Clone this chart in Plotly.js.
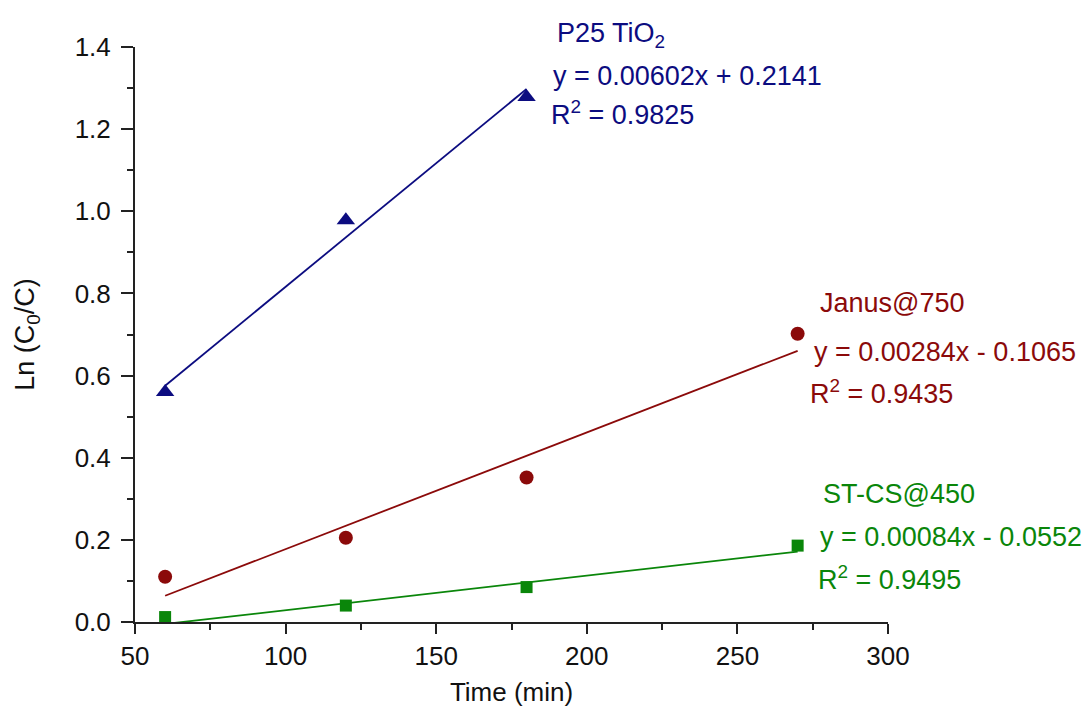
<!DOCTYPE html>
<html>
<head>
<meta charset="utf-8">
<script src="https://cdn.plot.ly/plotly-3.0.1.min.js"></script>
<style>html,body{margin:0;padding:0;background:#fff;}#chart{width:1091px;height:718px;}</style>
</head>
<body>
<div id="chart"></div>
<script>
// Data
const timeP25 = [60, 120, 180];
const lnP25 = [0.56, 0.978, 1.278];
const timeJanus = [60, 120, 180, 270];
const lnJanus = [0.11, 0.205, 0.352, 0.702];
const timeST = [60, 120, 180, 270];
const lnST = [0.012, 0.04, 0.085, 0.186];

// Linear fit coefficients (from the chart labels)
const fitSlope = [0.00602, 0.00284, 0.00084];
const fitIntercept = [0.2141, -0.1065, -0.0552];
const fitR2 = ['0.9825', '0.9435', '0.9495'];
const seriesNames = ['P25 TiO<sub>2</sub>', 'Janus@750', 'ST-CS@450'];

const colors = ['#0c0c80', '#8b0a0a', '#0a860a'];
const symbols = ['triangle-up', 'circle', 'square'];
const sizes = [16, 14, 12];
const xs = [timeP25, timeJanus, timeST];
const ys = [lnP25, lnJanus, lnST];

const traces = [];
for (let i = 0; i < 3; i++) {
  const x0 = Math.min(...xs[i]), x1 = Math.max(...xs[i]);
  traces.push({
    x: [x0, x1],
    y: [fitSlope[i] * x0 + fitIntercept[i], fitSlope[i] * x1 + fitIntercept[i]],
    mode: 'lines', line: {color: colors[i], width: 1.8},
    showlegend: false, hoverinfo: 'skip'
  });
  traces.push({
    x: xs[i], y: ys[i], mode: 'markers', cliponaxis: false,
    marker: {symbol: symbols[i], size: sizes[i], color: colors[i]},
    showlegend: false
  });
}

function fmt(n){ return (n<0?'- ':'+ ') + Math.abs(n).toFixed(4); }
function eq(i){
  return 'y = ' + fitSlope[i].toFixed(5) + 'x ' + fmt(fitIntercept[i]);
}

// label anchor positions (paper coords)
const labelPos = [
  [[0.558, 1.021], [0.552, 0.950], [0.550, 0.885]],
  [[0.907, 0.555], [0.899, 0.470], [0.894, 0.400]],
  [[0.911, 0.223], [0.907, 0.148], [0.904, 0.0765]]
];
const annotations = [];
for (let i = 0; i < 3; i++) {
  const texts = [seriesNames[i], eq(i), 'R<sup>2</sup> = ' + fitR2[i]];
  for (let j = 0; j < 3; j++) {
    annotations.push({
      x: labelPos[i][j][0], y: labelPos[i][j][1], xref: 'paper', yref: 'paper',
      text: texts[j], showarrow: false, xanchor: 'left', yanchor: 'middle',
      font: {family: 'Liberation Sans, Arial, sans-serif', size: 27, color: colors[i]}
    });
  }
}

const layout = {
  width: 1091, height: 718,
  margin: {l: 135, r: 203, t: 47, b: 96},
  paper_bgcolor: '#fff', plot_bgcolor: '#fff',
  font: {family: 'Liberation Sans, Arial, sans-serif', color: '#111'},
  xaxis: {
    range: [50, 300], tick0: 50, dtick: 50, showgrid: false, zeroline: false,
    showline: true, linecolor: '#222', linewidth: 2,
    ticks: 'outside', ticklen: 10, tickwidth: 2, tickcolor: '#222',
    minor: {ticks: 'outside', ticklen: 6, tickwidth: 2, tickcolor: '#222', dtick: 25, showgrid: false},
    tickfont: {size: 26, color: '#111'},
    title: {text: 'Time (min)', font: {size: 26, color: '#111'}, standoff: 13}
  },
  yaxis: {
    range: [0, 1.4], tick0: 0, dtick: 0.2, tickformat: '.1f', showgrid: false, zeroline: false,
    showline: true, linecolor: '#222', linewidth: 2,
    ticks: 'outside', ticklen: 12, tickwidth: 2, tickcolor: '#222',
    ticklabelstandoff: 5,
    minor: {ticks: 'outside', ticklen: 6, tickwidth: 2, tickcolor: '#222', dtick: 0.1, showgrid: false},
    tickfont: {size: 26, color: '#111'},
    title: {text: 'Ln (C<sub>0</sub>/C)', font: {size: 27, color: '#111'}, standoff: 32}
  },
  annotations: annotations
};

Plotly.newPlot('chart', traces, layout, {displayModeBar: false, staticPlot: true});
</script>
</body>
</html>
